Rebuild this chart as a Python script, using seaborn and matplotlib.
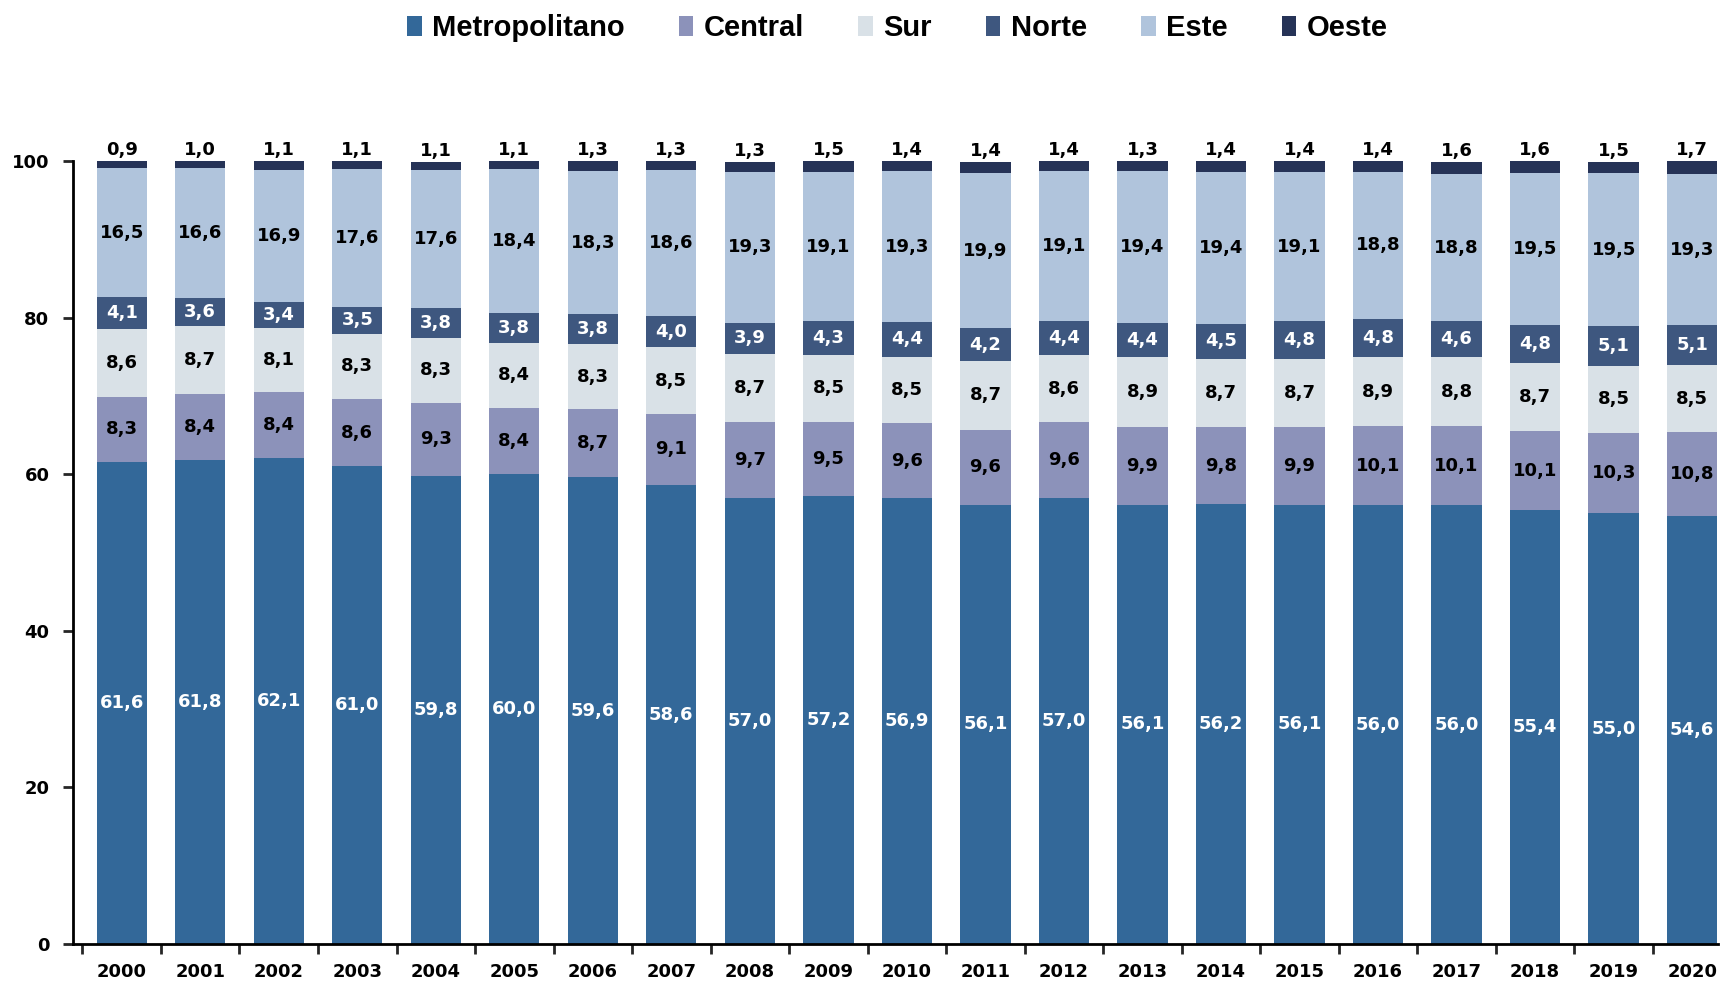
import numpy as np
import pandas as pd
import matplotlib
matplotlib.use("Agg")
import matplotlib.pyplot as plt
import seaborn as sns

years = [str(y) for y in range(2000, 2021)]

metropolitano = [61.6, 61.8, 62.1, 61.0, 59.8, 60.0, 59.6, 58.6, 57.0, 57.2, 56.9,
                 56.1, 57.0, 56.1, 56.2, 56.1, 56.0, 56.0, 55.4, 55.0, 54.6]
central = [8.3, 8.4, 8.4, 8.6, 9.3, 8.4, 8.7, 9.1, 9.7, 9.5, 9.6,
           9.6, 9.6, 9.9, 9.8, 9.9, 10.1, 10.1, 10.1, 10.3, 10.8]
sur = [8.6, 8.7, 8.1, 8.3, 8.3, 8.4, 8.3, 8.5, 8.7, 8.5, 8.5,
       8.7, 8.6, 8.9, 8.7, 8.7, 8.9, 8.8, 8.7, 8.5, 8.5]
norte = [4.1, 3.6, 3.4, 3.5, 3.8, 3.8, 3.8, 4.0, 3.9, 4.3, 4.4,
         4.2, 4.4, 4.4, 4.5, 4.8, 4.8, 4.6, 4.8, 5.1, 5.1]
este = [16.5, 16.6, 16.9, 17.6, 17.6, 18.4, 18.3, 18.6, 19.3, 19.1, 19.3,
        19.9, 19.1, 19.4, 19.4, 19.1, 18.8, 18.8, 19.5, 19.5, 19.3]
oeste = [0.9, 1.0, 1.1, 1.1, 1.1, 1.1, 1.3, 1.3, 1.3, 1.5, 1.4,
         1.4, 1.4, 1.3, 1.4, 1.4, 1.4, 1.6, 1.6, 1.5, 1.7]

regions = ["Metropolitano", "Central", "Sur", "Norte", "Este", "Oeste"]
series = [metropolitano, central, sur, norte, este, oeste]
colors = ["#336899", "#8C92BA", "#D9E1E7", "#3E577F", "#B0C4DC", "#263357"]
label_colors = ["white", "black", "black", "white", "black", "black"]

sns.set_style("white")
plt.rcParams["font.family"] = ["DejaVu Sans"]
plt.rcParams["text.color"] = "black"

fig = plt.figure(figsize=(17.26, 9.83), dpi=100)
ax = fig.add_axes([0.0423, 0.0397, 0.9531, 0.7966])

bottom = np.zeros(len(years))
for name, vals, col, lc in zip(regions, series, colors, label_colors):
    df = pd.DataFrame({"year": years, "value": vals})
    sns.barplot(data=df, x="year", y="value", color=col, saturation=1,
                width=0.64, bottom=bottom, ax=ax, label=name, errorbar=None,
                linewidth=0, edgecolor="none")
    for i, v in enumerate(vals):
        txt = f"{v:.1f}".replace(".", ",")
        if name == "Oeste":
            ax.text(i, bottom[i] + v + 0.2, txt, ha="center", va="bottom",
                    fontsize=13, fontweight="bold", color=lc, clip_on=False)
        else:
            ax.text(i, bottom[i] + v / 2, txt, ha="center", va="center",
                    fontsize=13, fontweight="bold", color=lc)
    bottom = bottom + np.array(vals)

handles, labels = ax.get_legend_handles_labels()
if ax.get_legend() is not None:
    ax.get_legend().remove()

ax.set_xlim(-0.62, 20.33)
ax.set_ylim(0, 100)
ax.set_yticks([0, 20, 40, 60, 80, 100])
ax.set_xlabel("")
ax.set_ylabel("")

for s in ["top", "right"]:
    ax.spines[s].set_visible(False)
for s in ["left", "bottom"]:
    ax.spines[s].set_color("black")
    ax.spines[s].set_linewidth(2)

ax.tick_params(axis="y", length=7, width=2, direction="out", left=True,
               labelsize=13, pad=10, labelcolor="black")
ax.tick_params(axis="x", which="major", length=0, labelsize=13, pad=14,
               labelcolor="black")
ax.set_xticks(np.arange(-0.5, 20.5, 1), minor=True)
ax.tick_params(axis="x", which="minor", length=7, width=2, direction="out", bottom=True)
for lab in ax.get_xticklabels() + ax.get_yticklabels():
    lab.set_fontweight("bold")

fig.legend(handles, labels, loc="upper center", bbox_to_anchor=(0.52, 1.012),
           ncol=6, frameon=False, handlelength=0.5, handleheight=0.65,
           handletextpad=0.36, columnspacing=1.85, labelcolor="black",
           prop={"family": "Liberation Sans", "weight": "bold", "size": 21})

fig.savefig("out.png", dpi=100)
